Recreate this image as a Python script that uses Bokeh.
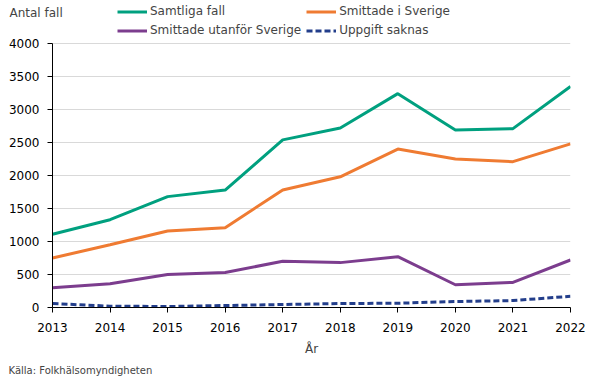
from bokeh.plotting import figure
from bokeh.models import (Range1d, FixedTicker, Legend, LegendItem, Title,
                          BasicTickFormatter)
from bokeh.embed import file_html
from bokeh.resources import INLINE

years = [2013, 2014, 2015, 2016, 2017, 2018, 2019, 2020, 2021, 2022]
samtliga = [1110, 1330, 1680, 1780, 2540, 2720, 3240, 2690, 2710, 3350]
sverige = [750, 950, 1160, 1210, 1780, 1980, 2400, 2250, 2210, 2480]
utanfor = [300, 360, 500, 530, 700, 680, 770, 345, 380, 720]
saknas = [60, 20, 15, 30, 45, 60, 65, 90, 105, 170]
y_ticks = [0, 500, 1000, 1500, 2000, 2500, 3000, 3500, 4000]

FONT = "DejaVu Sans"
Y_MAX = 4000
# the frame reaches above the 4000 line so that the legend can sit in it
Y_END = Y_MAX * 303 / 264

p = figure(width=605, height=379, output_backend="svg", toolbar_location=None,
           x_range=Range1d(2013, 2022), y_range=Range1d(0, Y_END),
           min_border_left=52, min_border_right=35, min_border_top=4,
           min_border_bottom=72)
p.outline_line_color = None
p.background_fill_color = "white"

r1 = p.line(years, samtliga, line_color="#00a07f", line_width=3)
r2 = p.line(years, sverige, line_color="#ef7b32", line_width=3)
r3 = p.line(years, utanfor, line_color="#7c3d8e", line_width=3)
r4 = p.line(years, saknas, line_color="#233e8b", line_width=3, line_dash="6 3")

p.xgrid.visible = False
p.ygrid.grid_line_color = "#d9d9d9"
p.ygrid.ticker = FixedTicker(ticks=y_ticks)

for ax in (p.xaxis[0], p.yaxis[0]):
    ax.axis_line_color = "black"
    ax.major_tick_line_color = "black"
    ax.major_tick_in = 0
    ax.major_tick_out = 5
    ax.minor_tick_line_color = None
    ax.major_label_text_font = FONT
    ax.major_label_text_font_size = "12px"
    ax.major_label_text_color = "black"
    ax.formatter = BasicTickFormatter(use_scientific=False)

p.yaxis.major_label_standoff = 8
p.xaxis.major_label_standoff = 10
p.yaxis.bounds = (0, Y_MAX)
p.xaxis.ticker = FixedTicker(ticks=years)
p.yaxis.ticker = FixedTicker(ticks=y_ticks)
p.xaxis.axis_label = "År"
p.xaxis.axis_label_text_font = FONT
p.xaxis.axis_label_text_font_size = "12px"
p.xaxis.axis_label_text_font_style = "normal"
p.xaxis.axis_label_standoff = 7

p.title.text = "Antal fall"
p.title.text_font = FONT
p.title.text_font_size = "12px"
p.title.text_font_style = "normal"
p.title.align = "left"
p.title.offset = -43
p.title.vertical_align = "bottom"
p.title.standoff = -30

src = Title(text="Källa: Folkhälsomyndigheten", text_font=FONT,
            text_font_size="10px", text_font_style="normal", align="left",
            offset=-44, standoff=8)
p.add_layout(src, "below")

legend = Legend(items=[
    LegendItem(label="Samtliga fall", renderers=[r1]),
    LegendItem(label="Smittade utanför Sverige", renderers=[r3]),
    LegendItem(label="Smittade i Sverige", renderers=[r2]),
    LegendItem(label="Uppgift saknas", renderers=[r4]),
], ncols=2, location=(65, 270), background_fill_alpha=0, border_line_color=None,
    label_text_font=FONT, label_text_font_size="12px", glyph_width=30,
    glyph_height=13, label_height=13, spacing=5, padding=0, margin=0,
    label_standoff=3)
p.add_layout(legend, "center")

open("out.html", "w").write(file_html(p, INLINE))
